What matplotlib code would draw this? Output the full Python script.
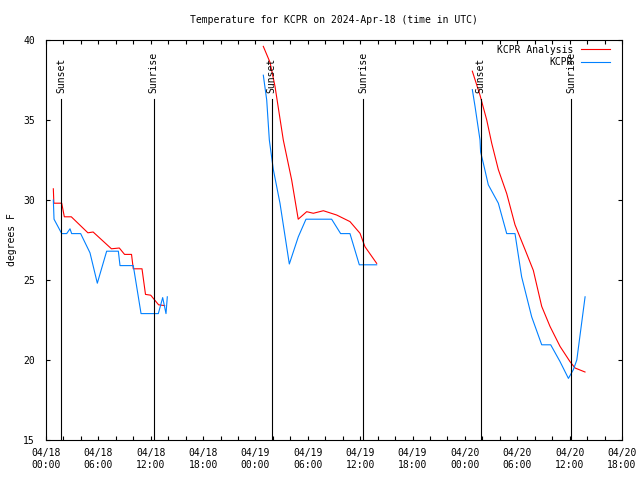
import numpy as np
import matplotlib
matplotlib.use('Agg')
import matplotlib.pyplot as plt
import matplotlib.dates as mdates
import pandas as pd

# hours since 2024-04-18 00:00 UTC, temps in deg F
start = pd.Timestamp('2024-04-18 00:00')

ana_hours = [
    [0.84, 0.9, 1.8, 2.1, 2.9, 4.8, 5.4, 7.5, 8.4, 9.0, 9.8, 10.0, 11.0, 11.4, 12.0, 12.9, 13.6],
    [24.9, 25.67, 26.24, 27.19, 28.15, 28.9, 29.87, 30.63, 31.78, 33.31, 34.83, 35.98, 36.55, 37.89],
    [48.85, 49.73, 50.5, 51.07, 51.83, 52.79, 53.74, 54.89, 55.84, 56.8, 57.75, 58.9, 60.04, 60.62, 61.76],
]
ana_temps = [
    [30.7, 29.8, 29.8, 28.95, 28.95, 27.95, 28.0, 26.95, 27.0, 26.6, 26.6, 25.7, 25.7, 24.1, 24.05, 23.45, 23.4],
    [39.6, 38.6, 37.1, 33.75, 31.25, 28.8, 29.27, 29.17, 29.33, 29.06, 28.65, 27.92, 27.08, 26.04],
    [38.05, 36.55, 35.0, 33.55, 31.9, 30.4, 28.45, 26.9, 25.6, 23.35, 22.1, 20.85, 19.9, 19.5, 19.25],
]

obs_hours = [
    [0.84, 0.92, 1.41, 1.8, 2.37, 2.75, 2.94, 3.97, 5.04, 5.88, 6.95, 8.29, 8.48, 10.0, 10.89, 12.87, 13.37, 13.75, 13.9],
    [24.9, 25.29, 25.59, 25.75, 26.05, 26.81, 27.88, 28.91, 29.79, 32.73, 33.76, 34.83, 35.9, 37.89],
    [48.85, 49.16, 49.73, 49.8, 50.11, 50.68, 51.83, 52.79, 53.74, 54.5, 55.65, 56.8, 57.83, 58.9, 59.86, 60.43, 60.82, 61.77],
]
obs_temps = [
    [30.0, 28.8, 28.3, 27.9, 27.9, 28.2, 27.9, 27.9, 26.7, 24.8, 26.8, 26.8, 25.9, 25.9, 22.9, 22.9, 23.9, 22.9, 23.95],
    [37.8, 36.25, 33.75, 33.1, 31.9, 29.8, 26.0, 27.7, 28.8, 28.8, 27.9, 27.9, 25.95, 25.95],
    [36.9, 35.85, 33.75, 33.0, 32.3, 30.95, 29.8, 27.9, 27.9, 25.2, 22.7, 20.95, 20.95, 19.9, 18.85, 19.4, 20.0, 23.95],
]

sunset_hours = [1.77, 25.85, 49.8]
sunrise_hours = [12.35, 36.35, 60.16]


def to_time(h):
    return start + pd.to_timedelta(np.asarray(h), unit='h')


plt.rcParams['font.family'] = 'DejaVu Sans Mono'
plt.rcParams['font.size'] = 7

fig = plt.figure(figsize=(6.4, 4.8), dpi=100)
ax = fig.add_axes([46/640, 40/480, 576/640, 400/480])

for i in range(len(ana_hours)):
    ax.plot(to_time(ana_hours[i]), ana_temps[i], color='#ff0000', lw=0.8,
            label='KCPR Analysis' if i == 0 else None)
for i in range(len(obs_hours)):
    ax.plot(to_time(obs_hours[i]), obs_temps[i], color='#0080ff', lw=0.8,
            label='KCPR' if i == 0 else None)

for name, hrs in (('Sunset', sunset_hours), ('Sunrise', sunrise_hours)):
    for h in hrs:
        t = to_time([h])[0]
        ax.plot([t, t], [15, 36.3], color='black', lw=0.8)
        ax.text(t, 36.7, name, rotation=90, ha='center', va='bottom')

ax.set_xlim(start, start + pd.Timedelta(hours=66))
ax.set_ylim(15, 40)
ax.xaxis.set_major_locator(mdates.HourLocator(byhour=range(0, 24, 6)))
ax.xaxis.set_minor_locator(mdates.HourLocator(byhour=range(0, 24, 2)))
ax.xaxis.set_major_formatter(mdates.DateFormatter('%m/%d\n%H:%M'))
ax.set_yticks([15, 20, 25, 30, 35, 40])

ax.tick_params(which='both', direction='in', top=True, right=True, length=3, width=0.8)
ax.tick_params(axis='x', pad=6)
ax.tick_params(axis='y', pad=8)
for s in ax.spines.values():
    s.set_linewidth(0.8)

ax.set_title('Temperature for KCPR on 2024-Apr-18 (time in UTC)', pad=12, fontsize=7)
ax.set_ylabel('degrees F')
ax.yaxis.set_label_coords(-0.05, 0.5)

# legend sits over the last sunrise label, like the original
ax.legend(loc='upper right', bbox_to_anchor=(0.986, 0.998), frameon=False,
          markerfirst=False, handlelength=3, borderaxespad=0,
          labelspacing=0.25, handletextpad=0.8)

fig.savefig('out.png', dpi=100)
